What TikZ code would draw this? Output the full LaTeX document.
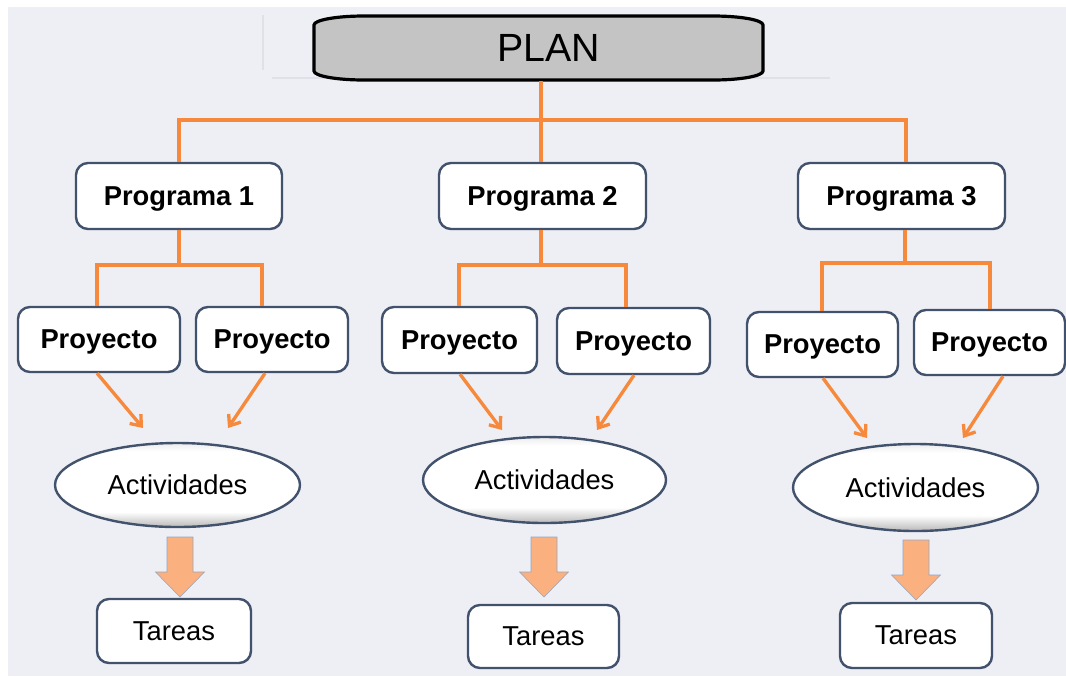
\documentclass[tikz,border=0pt]{standalone}
\usepackage{fontspec}
\setmainfont{Liberation Sans}
\usetikzlibrary{shapes.geometric,arrows.meta,shadows}
\definecolor{bgpanel}{RGB}{238,239,245}
\definecolor{faintline}{RGB}{224,225,232}
\definecolor{planfill}{RGB}{196,196,196}
\definecolor{boxline}{RGB}{66,82,108}
\definecolor{conncol}{RGB}{246,137,60}
\definecolor{blockfill}{RGB}{251,176,127}
\definecolor{blockline}{RGB}{150,165,190}
\pgfdeclareverticalshading{bevel}{100bp}{color(0bp)=(gray!55); color(25bp)=(gray!55); color(34bp)=(white); color(70bp)=(white); color(75bp)=(gray!15); color(100bp)=(gray!15)}
\tikzset{
  txt/.style={font=\fontsize{20.5pt}{24pt}\selectfont, text=black, text depth=0pt},
  boxnode/.style={txt, draw=boxline, line width=1.8pt, fill=white, rounded corners=9pt, inner sep=0pt,
    drop shadow={opacity=0.18, shadow xshift=0.8pt, shadow yshift=-0.8pt}},
  boldbox/.style={boxnode, font=\fontsize{20.5pt}{24pt}\selectfont\bfseries},
  actnode/.style={txt, ellipse, draw=boxline, line width=1.8pt, shade, shading=bevel, inner sep=0pt},
  conn/.style={draw=conncol, line width=2.5pt},
  arr/.style={draw=conncol, line width=2.5pt, -{Straight Barb[length=7pt,width=11pt]}},
  blockarr/.style={fill=blockfill, draw=blockline, line width=0.4pt},
  planbox/.style={fill=planfill, draw=black, line width=2.4pt},
}
\newcommand{\blockarrowat}[2]{%
  \path[blockarr] ({#1-13},{#2}) -- ({#1+13},{#2}) -- ({#1+13},{#2+35}) -- ({#1+24.5},{#2+35})
    -- ({#1},{#2+60}) -- ({#1-24.5},{#2+35}) -- ({#1-13},{#2+35}) -- cycle;}
\begin{document}
\begin{tikzpicture}[x=0.75pt,y=-0.75pt]
% background
\fill[white] (0,0) rectangle (1066,676);
\fill[bgpanel] (8,7) rectangle (1066,676);
\useasboundingbox (0,0) rectangle (1066,676);
\draw[faintline, line width=0.8pt] (263,15) -- (263,70);
\draw[faintline, line width=0.8pt] (272,78) -- (830,78);

% PLAN box
\draw[planbox] (364,16) -- (713,16) arc[start angle=-90, end angle=0, x radius=50, y radius=9]
  -- (763,71) arc[start angle=0, end angle=90, x radius=50, y radius=9]
  -- (364,80) arc[start angle=90, end angle=180, x radius=50, y radius=9]
  -- (314,25) arc[start angle=180, end angle=270, x radius=50, y radius=9] -- cycle;
\node[font=\fontsize{29.5pt}{34pt}\selectfont, text depth=0pt, minimum width=336.75pt, minimum height=48.75pt, inner sep=0pt]
  (plan) at (538.5,48) {\hspace*{15pt}PLAN};

% Programas
\node[boldbox, minimum width=154.5pt, minimum height=49.5pt] (p1) at (179,196) {Programa 1};
\node[boldbox, minimum width=155.25pt, minimum height=49.5pt] (p2) at (542.5,196) {Programa 2};
\node[boldbox, minimum width=155.25pt, minimum height=49.5pt] (p3) at (901.5,196) {Programa 3};

\coordinate (bus) at (541,120);
\draw[conn] (plan.south -| bus) -- (bus);
\draw[conn] (p1.north) |- (bus) -| (p3.north -| 906,0);
\draw[conn] (bus) -- (p2.north -| bus);

% Proyectos
\node[boldbox, minimum width=121.5pt, minimum height=48.75pt] (pa1) at (99,339.5) {Proyecto};
\node[boldbox, minimum width=114pt, minimum height=48.75pt] (pb1) at (272,339.5) {Proyecto};
\node[boldbox, minimum width=116.25pt, minimum height=49.5pt] (pa2) at (459.5,340) {Proyecto};
\node[boldbox, minimum width=114.75pt, minimum height=49.5pt] (pb2) at (633.5,341) {Proyecto};
\node[boldbox, minimum width=113.25pt, minimum height=48.75pt] (pa3) at (822.5,344.5) {Proyecto};
\node[boldbox, minimum width=113.25pt, minimum height=48.75pt] (pb3) at (989.5,342.5) {Proyecto};

\coordinate (b1) at (179,265);
\coordinate (b2) at (541,265);
\coordinate (b3) at (905,263);
\draw[conn] (p1.south) -- (b1);
\draw[conn] (pa1.north -| 97,0) |- (b1) -| (pb1.north -| 262,0);
\draw[conn] (p2.south -| b2) -- (b2);
\draw[conn] (pa2.north -| 459,0) |- (b2) -| (pb2.north -| 626,0);
\draw[conn] (p3.south -| b3) -- (b3);
\draw[conn] (pa3.north -| 822,0) |- (b3) -| (pb3.north -| 990,0);

% Actividades
\node[actnode, minimum width=183.75pt, minimum height=63pt] (act1) at (177.5,485) {Actividades};
\node[actnode, minimum width=182.25pt, minimum height=64.5pt] (act2) at (544.5,480) {Actividades};
\node[actnode, minimum width=183.75pt, minimum height=65.25pt] (act3) at (915.5,487.5) {Actividades};

\coordinate (e1a) at (143,428);
\coordinate (e1b) at (228,428);
\coordinate (e2a) at (502,430);
\coordinate (e2b) at (597,430);
\coordinate (e3a) at (867,438);
\coordinate (e3b) at (963,438);
\draw[arr] (pa1.south -| 97,0) -- (e1a);
\draw[arr] (pb1.south -| 265,0) -- (e1b);
\draw[arr] (pa2.south -| 460,0) -- (e2a);
\draw[arr] (pb2.south -| 634,0) -- (e2b);
\draw[arr] (pa3.south -| 823,0) -- (e3a);
\draw[arr] (pb3.south -| 1003,0) -- (e3b);

% Tareas
\node[boxnode, minimum width=115.5pt, minimum height=48pt] (t1) at (174,631) {Tareas};
\node[boxnode, minimum width=113.25pt, minimum height=47.25pt] (t2) at (543.5,636.5) {Tareas};
\node[boxnode, minimum width=114pt, minimum height=48.75pt] (t3) at (916,635.5) {Tareas};

% block arrows
\blockarrowat{180}{537}
\blockarrowat{544}{537}
\blockarrowat{916}{540}
\end{tikzpicture}
\end{document}
